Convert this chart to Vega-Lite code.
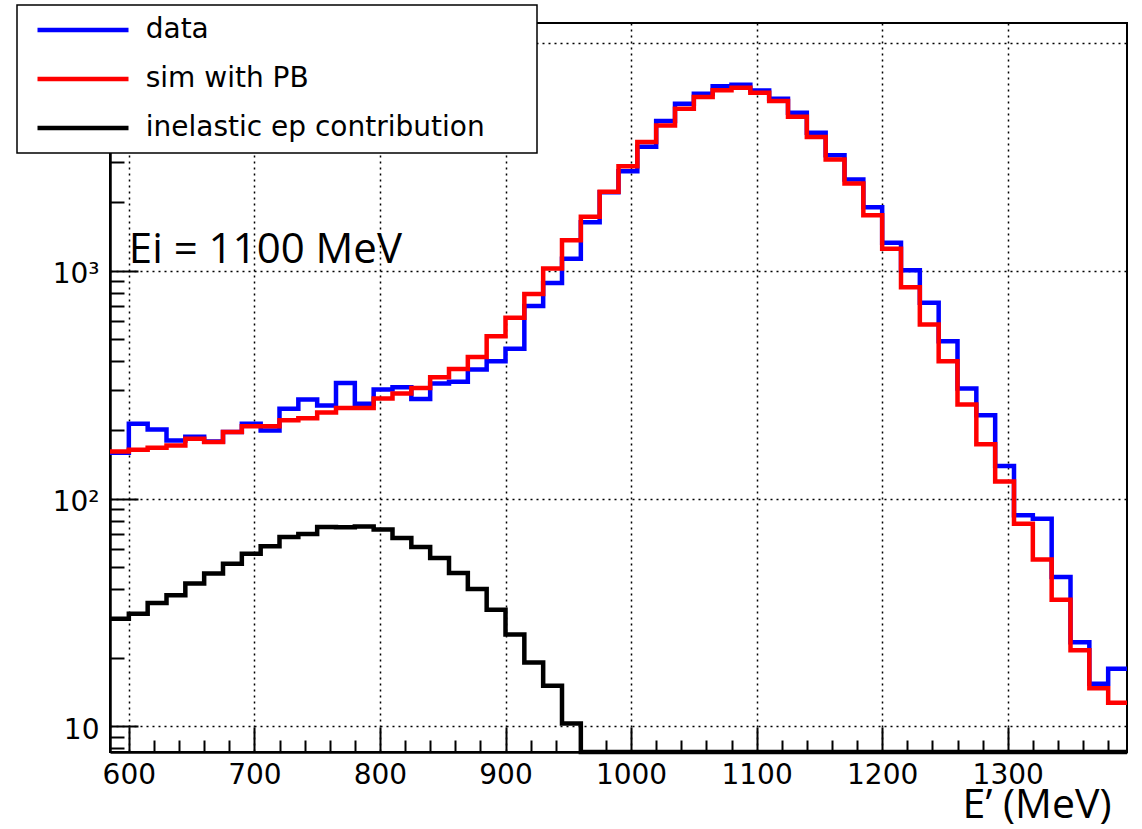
{
  "$schema": "https://vega.github.io/schema/vega-lite/v6.json",
  "width": 1017,
  "height": 729,
  "autosize": "none",
  "padding": {"left": 110, "top": 23, "right": 15, "bottom": 77},
  "background": "white",
  "config": {
    "view": {"stroke": "black", "strokeWidth": 2},
    "axis": {
      "grid": true,
      "gridColor": "black",
      "gridDash": [2, 4],
      "gridWidth": 1.5,
      "domainColor": "black",
      "domainWidth": 2.5,
      "tickColor": "black",
      "tickWidth": 2,
      "labelFont": "DejaVu Sans",
      "labelFontSize": 28,
      "labelColor": "black",
      "labelFlush": false,
      "labelOverlap": false,
      "labelBound": false
    }
  },
  "datasets": {
    "hist": [
      {"E": 585, "series": "data", "n": 159},
      {"E": 600, "series": "data", "n": 213},
      {"E": 615, "series": "data", "n": 201},
      {"E": 630, "series": "data", "n": 180},
      {"E": 645, "series": "data", "n": 187},
      {"E": 660, "series": "data", "n": 178},
      {"E": 675, "series": "data", "n": 196},
      {"E": 690, "series": "data", "n": 213},
      {"E": 705, "series": "data", "n": 199},
      {"E": 720, "series": "data", "n": 248},
      {"E": 735, "series": "data", "n": 272},
      {"E": 750, "series": "data", "n": 256},
      {"E": 765, "series": "data", "n": 322},
      {"E": 780, "series": "data", "n": 261},
      {"E": 795, "series": "data", "n": 301},
      {"E": 810, "series": "data", "n": 308},
      {"E": 825, "series": "data", "n": 274},
      {"E": 840, "series": "data", "n": 320},
      {"E": 855, "series": "data", "n": 326},
      {"E": 870, "series": "data", "n": 369},
      {"E": 885, "series": "data", "n": 401},
      {"E": 900, "series": "data", "n": 455},
      {"E": 915, "series": "data", "n": 700},
      {"E": 930, "series": "data", "n": 885},
      {"E": 945, "series": "data", "n": 1129},
      {"E": 960, "series": "data", "n": 1635},
      {"E": 975, "series": "data", "n": 2213},
      {"E": 990, "series": "data", "n": 2737},
      {"E": 1005, "series": "data", "n": 3504},
      {"E": 1020, "series": "data", "n": 4540},
      {"E": 1035, "series": "data", "n": 5411},
      {"E": 1050, "series": "data", "n": 5985},
      {"E": 1065, "series": "data", "n": 6466},
      {"E": 1080, "series": "data", "n": 6556},
      {"E": 1095, "series": "data", "n": 6190},
      {"E": 1110, "series": "data", "n": 5692},
      {"E": 1125, "series": "data", "n": 4943},
      {"E": 1140, "series": "data", "n": 4037},
      {"E": 1155, "series": "data", "n": 3219},
      {"E": 1170, "series": "data", "n": 2518},
      {"E": 1185, "series": "data", "n": 1901},
      {"E": 1200, "series": "data", "n": 1327},
      {"E": 1215, "series": "data", "n": 1006},
      {"E": 1230, "series": "data", "n": 724},
      {"E": 1245, "series": "data", "n": 491},
      {"E": 1260, "series": "data", "n": 304},
      {"E": 1275, "series": "data", "n": 232},
      {"E": 1290, "series": "data", "n": 139},
      {"E": 1305, "series": "data", "n": 84.5},
      {"E": 1320, "series": "data", "n": 81.5},
      {"E": 1335, "series": "data", "n": 45.3},
      {"E": 1350, "series": "data", "n": 23.4},
      {"E": 1365, "series": "data", "n": 15.4},
      {"E": 1380, "series": "data", "n": 17.9},
      {"E": 1395, "series": "data", "n": 17.9},

      {"E": 585, "series": "sim with PB", "n": 161},
      {"E": 600, "series": "sim with PB", "n": 164},
      {"E": 615, "series": "sim with PB", "n": 167},
      {"E": 630, "series": "sim with PB", "n": 171},
      {"E": 645, "series": "sim with PB", "n": 183},
      {"E": 660, "series": "sim with PB", "n": 177},
      {"E": 675, "series": "sim with PB", "n": 196},
      {"E": 690, "series": "sim with PB", "n": 208},
      {"E": 705, "series": "sim with PB", "n": 208},
      {"E": 720, "series": "sim with PB", "n": 221},
      {"E": 735, "series": "sim with PB", "n": 225},
      {"E": 750, "series": "sim with PB", "n": 239},
      {"E": 765, "series": "sim with PB", "n": 250},
      {"E": 780, "series": "sim with PB", "n": 250},
      {"E": 795, "series": "sim with PB", "n": 275},
      {"E": 810, "series": "sim with PB", "n": 289},
      {"E": 825, "series": "sim with PB", "n": 306},
      {"E": 840, "series": "sim with PB", "n": 341},
      {"E": 855, "series": "sim with PB", "n": 371},
      {"E": 870, "series": "sim with PB", "n": 418},
      {"E": 885, "series": "sim with PB", "n": 516},
      {"E": 900, "series": "sim with PB", "n": 622},
      {"E": 915, "series": "sim with PB", "n": 790},
      {"E": 930, "series": "sim with PB", "n": 1023},
      {"E": 945, "series": "sim with PB", "n": 1361},
      {"E": 960, "series": "sim with PB", "n": 1725},
      {"E": 975, "series": "sim with PB", "n": 2221},
      {"E": 990, "series": "sim with PB", "n": 2880},
      {"E": 1005, "series": "sim with PB", "n": 3672},
      {"E": 1020, "series": "sim with PB", "n": 4346},
      {"E": 1035, "series": "sim with PB", "n": 5145},
      {"E": 1050, "series": "sim with PB", "n": 5787},
      {"E": 1065, "series": "sim with PB", "n": 6210},
      {"E": 1080, "series": "sim with PB", "n": 6362},
      {"E": 1095, "series": "sim with PB", "n": 6048},
      {"E": 1110, "series": "sim with PB", "n": 5559},
      {"E": 1125, "series": "sim with PB", "n": 4742},
      {"E": 1140, "series": "sim with PB", "n": 3862},
      {"E": 1155, "series": "sim with PB", "n": 3082},
      {"E": 1170, "series": "sim with PB", "n": 2418},
      {"E": 1185, "series": "sim with PB", "n": 1755},
      {"E": 1200, "series": "sim with PB", "n": 1249},
      {"E": 1215, "series": "sim with PB", "n": 847},
      {"E": 1230, "series": "sim with PB", "n": 581},
      {"E": 1245, "series": "sim with PB", "n": 401},
      {"E": 1260, "series": "sim with PB", "n": 259},
      {"E": 1275, "series": "sim with PB", "n": 173},
      {"E": 1290, "series": "sim with PB", "n": 119},
      {"E": 1305, "series": "sim with PB", "n": 77.6},
      {"E": 1320, "series": "sim with PB", "n": 54},
      {"E": 1335, "series": "sim with PB", "n": 36},
      {"E": 1350, "series": "sim with PB", "n": 21.6},
      {"E": 1365, "series": "sim with PB", "n": 14.7},
      {"E": 1380, "series": "sim with PB", "n": 12.7},
      {"E": 1395, "series": "sim with PB", "n": 12.7},

      {"E": 585, "series": "inelastic ep contribution", "n": 29.7},
      {"E": 600, "series": "inelastic ep contribution", "n": 31.2},
      {"E": 615, "series": "inelastic ep contribution", "n": 34.8},
      {"E": 630, "series": "inelastic ep contribution", "n": 37.6},
      {"E": 645, "series": "inelastic ep contribution", "n": 42.4},
      {"E": 660, "series": "inelastic ep contribution", "n": 46.9},
      {"E": 675, "series": "inelastic ep contribution", "n": 51.8},
      {"E": 690, "series": "inelastic ep contribution", "n": 57.2},
      {"E": 705, "series": "inelastic ep contribution", "n": 61.7},
      {"E": 720, "series": "inelastic ep contribution", "n": 67.9},
      {"E": 735, "series": "inelastic ep contribution", "n": 70},
      {"E": 750, "series": "inelastic ep contribution", "n": 75.1},
      {"E": 765, "series": "inelastic ep contribution", "n": 74.9},
      {"E": 780, "series": "inelastic ep contribution", "n": 75.5},
      {"E": 795, "series": "inelastic ep contribution", "n": 73.1},
      {"E": 810, "series": "inelastic ep contribution", "n": 67.2},
      {"E": 825, "series": "inelastic ep contribution", "n": 61.3},
      {"E": 840, "series": "inelastic ep contribution", "n": 54.9},
      {"E": 855, "series": "inelastic ep contribution", "n": 47.2},
      {"E": 870, "series": "inelastic ep contribution", "n": 40.1},
      {"E": 885, "series": "inelastic ep contribution", "n": 32.5},
      {"E": 900, "series": "inelastic ep contribution", "n": 25.3},
      {"E": 915, "series": "inelastic ep contribution", "n": 19.1},
      {"E": 930, "series": "inelastic ep contribution", "n": 15.1},
      {"E": 945, "series": "inelastic ep contribution", "n": 10.3},
      {"E": 960, "series": "inelastic ep contribution", "n": 0},
      {"E": 975, "series": "inelastic ep contribution", "n": 0},
      {"E": 990, "series": "inelastic ep contribution", "n": 0},
      {"E": 1005, "series": "inelastic ep contribution", "n": 0},
      {"E": 1020, "series": "inelastic ep contribution", "n": 0},
      {"E": 1035, "series": "inelastic ep contribution", "n": 0},
      {"E": 1050, "series": "inelastic ep contribution", "n": 0},
      {"E": 1065, "series": "inelastic ep contribution", "n": 0},
      {"E": 1080, "series": "inelastic ep contribution", "n": 0},
      {"E": 1095, "series": "inelastic ep contribution", "n": 0},
      {"E": 1110, "series": "inelastic ep contribution", "n": 0},
      {"E": 1125, "series": "inelastic ep contribution", "n": 0},
      {"E": 1140, "series": "inelastic ep contribution", "n": 0},
      {"E": 1155, "series": "inelastic ep contribution", "n": 0},
      {"E": 1170, "series": "inelastic ep contribution", "n": 0},
      {"E": 1185, "series": "inelastic ep contribution", "n": 0},
      {"E": 1200, "series": "inelastic ep contribution", "n": 0},
      {"E": 1215, "series": "inelastic ep contribution", "n": 0},
      {"E": 1230, "series": "inelastic ep contribution", "n": 0},
      {"E": 1245, "series": "inelastic ep contribution", "n": 0},
      {"E": 1260, "series": "inelastic ep contribution", "n": 0},
      {"E": 1275, "series": "inelastic ep contribution", "n": 0},
      {"E": 1290, "series": "inelastic ep contribution", "n": 0},
      {"E": 1305, "series": "inelastic ep contribution", "n": 0},
      {"E": 1320, "series": "inelastic ep contribution", "n": 0},
      {"E": 1335, "series": "inelastic ep contribution", "n": 0},
      {"E": 1350, "series": "inelastic ep contribution", "n": 0},
      {"E": 1365, "series": "inelastic ep contribution", "n": 0},
      {"E": 1380, "series": "inelastic ep contribution", "n": 0},
      {"E": 1395, "series": "inelastic ep contribution", "n": 0}
    ],
    "note": [
      {"E": 600, "n": 1084, "label": "Ei = 1100 MeV"}
    ]
  },
  "encoding": {
    "x": {
      "field": "E",
      "type": "quantitative",
      "scale": {"domain": [585, 1395], "nice": false, "zero": false},
      "axis": {
        "values": [600, 620, 640, 660, 680, 700, 720, 740, 760, 780, 800, 820, 840, 860, 880, 900, 920, 940, 960, 980, 1000, 1020, 1040, 1060, 1080, 1100, 1120, 1140, 1160, 1180, 1200, 1220, 1240, 1260, 1280, 1300, 1320, 1340, 1360, 1380],
        "labelExpr": "datum.value % 100 === 0 ? toString(datum.value) : ''",
        "tickSize": {"condition": {"test": "datum.value % 100 === 0", "value": -25}, "value": -12},
        "gridOpacity": {"condition": {"test": "datum.value % 100 === 0", "value": 1}, "value": 0},
        "labelPadding": 34,
        "title": "E’ (MeV)",
        "titleFont": "Open Sans",
        "titleFontSize": 41,
        "titleFontWeight": "normal",
        "titleColor": "black",
        "titleAlign": "right",
        "titleAnchor": null,
        "titleBaseline": "alphabetic",
        "titleX": 1001,
        "titleY": 65
      }
    },
    "y": {
      "field": "n",
      "type": "quantitative",
      "scale": {"type": "log", "domain": [7.72, 12240], "nice": false, "clamp": true},
      "axis": {
        "values": [8, 9, 10, 20, 30, 40, 50, 60, 70, 80, 90, 100, 200, 300, 400, 500, 600, 700, 800, 900, 1000, 2000, 3000, 4000, 5000, 6000, 7000, 8000, 9000, 10000],
        "labelExpr": "datum.value === 10 ? '10' : datum.value === 100 ? '10²' : datum.value === 1000 ? '10³' : ''",
        "tickSize": {"condition": {"test": "indexof([10,100,1000,10000], datum.value) >= 0", "value": -28}, "value": -14},
        "gridOpacity": {"condition": {"test": "indexof([10,100,1000,10000], datum.value) >= 0", "value": 1}, "value": 0},
        "labelPadding": 39,
        "labelBaseline": "middle",
        "labelAlign": "right",
        "labelOffset": 4,
        "title": null
      }
    }
  },
  "layer": [
    {
      "data": {"name": "hist"},
      "transform": [{"filter": "datum.series === 'data'"}],
      "mark": {"type": "line", "interpolate": "step-after", "strokeWidth": 4.5, "strokeCap": "butt", "strokeJoin": "miter"},
      "encoding": {
        "color": {
          "field": "series",
          "type": "nominal",
          "scale": {"domain": ["data", "sim with PB", "inelastic ep contribution"], "range": ["#0000ff", "#ff0000", "#000000"]},
          "legend": {
            "orient": "none",
            "legendX": -93,
            "legendY": -18,
            "title": null,
            "symbolType": "stroke",
            "symbolSize": 8281,
            "symbolStrokeWidth": 4.5,
            "clipHeight": 28,
            "rowPadding": 21,
            "padding": 11,
            "symbolOffset": 7,
            "labelOffset": 14.7,
            "labelFont": "DejaVu Sans",
            "labelFontSize": 28,
            "labelColor": "black",
            "labelLimit": 800,
            "labelExpr": "datum.label + '\u2800\u2800'",
            "fillColor": "white",
            "strokeColor": "black",
            "encode": {"legend": {"update": {"strokeWidth": {"value": 1.5}}}}
          }
        }
      }
    },
    {
      "data": {"name": "hist"},
      "transform": [{"filter": "datum.series === 'sim with PB'"}],
      "mark": {"type": "line", "interpolate": "step-after", "strokeWidth": 4.5, "strokeCap": "butt", "strokeJoin": "miter"},
      "encoding": {"color": {"field": "series", "type": "nominal"}}
    },
    {
      "data": {"name": "hist"},
      "transform": [{"filter": "datum.series === 'inelastic ep contribution'"}],
      "mark": {"type": "line", "interpolate": "step-after", "strokeWidth": 4.5, "strokeCap": "butt", "strokeJoin": "miter"},
      "encoding": {"color": {"field": "series", "type": "nominal"}}
    },
    {
      "data": {"name": "note"},
      "mark": {"type": "text", "align": "left", "baseline": "alphabetic", "font": "Open Sans", "fontSize": 42, "color": "black"},
      "encoding": {"text": {"field": "label"}}
    }
  ]
}
